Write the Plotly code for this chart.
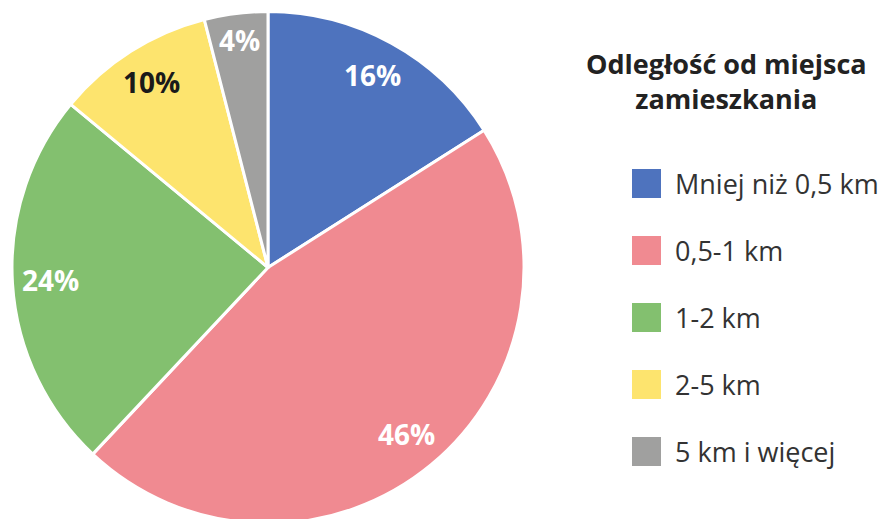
import math
import plotly.graph_objects as go

categories = ["Mniej niż 0,5 km", "0,5-1 km", "1-2 km", "2-5 km", "5 km i więcej"]
values = [16, 46, 24, 10, 4]
colors = ["#4E73BE", "#F08A91", "#83C06F", "#FDE46E", "#A0A09F"]
label_colors = ["white", "white", "white", "#1a1a1a", "white"]
legend_title = "Odległość od miejsca<br>zamieszkania"

W, H = 887, 519
OFF = 8  # page body margin
cx, cy, R = 268 - OFF, H / 2, 256
FONT = "Open Sans"

fig = go.Figure()
fig.add_trace(go.Pie(
    labels=categories, values=values, sort=False, direction="clockwise",
    rotation=0, textinfo="none", hoverinfo="label+percent",
    marker=dict(colors=colors, line=dict(color="white", width=3)),
    domain=dict(x=[(cx - R) / W, (cx + R) / W], y=[0, 1]),
    showlegend=False,
))

annotations = []
total = sum(values)
cum = 0
for v, tc in zip(values, label_colors):
    mid = (cum + v / 2) / total * 2 * math.pi
    cum += v
    frac = 0.89 if v / total < 0.05 else 0.85
    r = frac * R
    px = cx + r * math.sin(mid)
    py = cy - r * math.cos(mid) - 1.5
    annotations.append(dict(
        x=px / W, y=1 - py / H, xref="paper", yref="paper",
        text=f"<b>{round(v / total * 100)}%</b>", showarrow=False,
        font=dict(family=FONT, size=28, color=tc),
        xanchor="center", yanchor="middle",
    ))

annotations.append(dict(
    x=(726 - OFF) / W, y=1 - 73 / H, xref="paper", yref="paper",
    text=f"<b>{legend_title}</b>", showarrow=False, align="center",
    font=dict(family=FONT, size=27, color="#222222"),
    xanchor="center", yanchor="middle",
))

shapes = []
y0 = 183.5 - OFF
step = 67
for i, (cat, col) in enumerate(zip(categories, colors)):
    yc = y0 + i * step
    shapes.append(dict(type="rect", xref="paper", yref="paper",
                       x0=(632 - OFF) / W, x1=(661 - OFF) / W,
                       y0=1 - (yc - 14.5) / H, y1=1 - (yc + 14.5) / H,
                       fillcolor=col, line=dict(width=0)))
    annotations.append(dict(
        x=(675 - OFF - 2) / W, y=1 - yc / H, xref="paper", yref="paper",
        text=cat, showarrow=False,
        font=dict(family=FONT, size=27, color="#333333"),
        xanchor="left", yanchor="middle",
    ))

fig.update_layout(
    width=W, height=H, margin=dict(l=0, r=0, t=0, b=0),
    paper_bgcolor="white", plot_bgcolor="white",
    annotations=annotations, shapes=shapes,
)
fig.write_html("out.html")
